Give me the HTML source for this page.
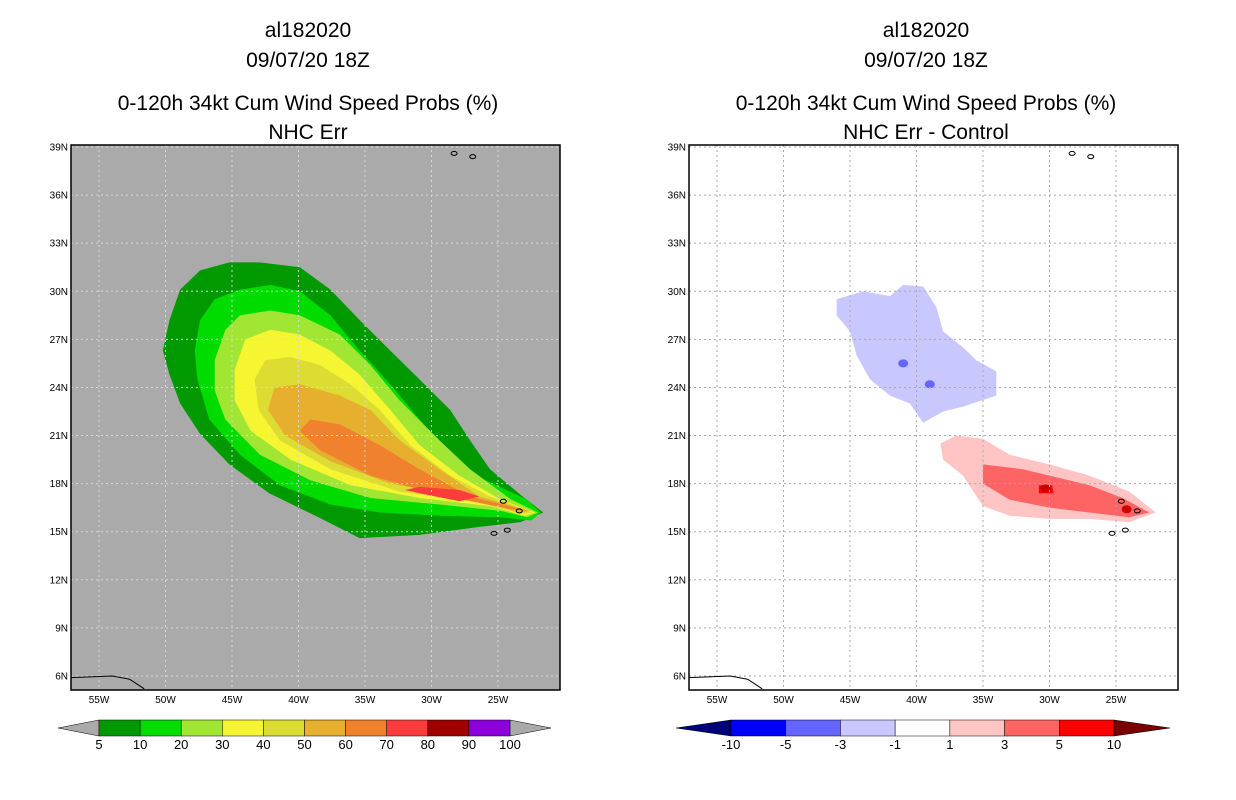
<!DOCTYPE html>
<html><head><meta charset="utf-8"><style>
body{margin:0;background:#fff;width:1236px;height:800px;overflow:hidden}
svg{display:block}
</style></head><body>
<svg id="c" width="1236" height="800" xmlns="http://www.w3.org/2000/svg" font-family="Liberation Sans, sans-serif">
<g font-size="21" text-anchor="middle" fill="#000">
<text x="308" y="37">al182020</text>
<text x="308" y="67">09/07/20 18Z</text>
<text x="308" y="110">0-120h 34kt Cum Wind Speed Probs (%)</text>
<text x="308" y="139">NHC Err</text>
<text x="926" y="37">al182020</text>
<text x="926" y="67">09/07/20 18Z</text>
<text x="926" y="110">0-120h 34kt Cum Wind Speed Probs (%)</text>
<text x="926" y="139">NHC Err - Control</text>
</g>
<g id="L"></g><g id="R"></g>
</svg>
<script>
const lonTicks=[55,50,45,40,35,30,25];
const latTicks=[39,36,33,30,27,24,21,18,15,12,9,6];
// probability contour polygons [lonW, latN]
const levels=[5,10,20,30,40,50,60,70];
const levelColors=["#009a00","#00dc00","#a0e632","#f5f532","#dcdc32","#e6af2d","#f0822d","#fa3c3c"];
const probPolys=[
[[21.6,16.2],[23.3,17.3],[25.6,18.9],[27.1,20.7],[28.6,22.6],[30.9,24.5],[33.1,26.3],[35.4,28.2],[37.6,30.1],[39.9,31.5],[42.9,31.8],[45.2,31.8],[47.4,31.3],[48.9,30.1],[49.7,28.2],[50.2,26.3],[49.7,24.8],[48.9,23],[47.4,21.1],[45.2,19.2],[42.2,17.4],[38.5,15.9],[35.4,14.6],[30.9,14.8],[26.4,15.3],[23.3,15.6]],
[[21.8,16.2],[22.8,17],[26.4,18.4],[28.6,19.8],[30.9,22],[33.1,24.2],[35.4,26.3],[37.6,28.5],[39.9,30],[42.1,30.4],[44.4,30.1],[46.3,29.5],[47.4,28.2],[47.8,26.3],[47.6,24.5],[46.7,22],[44.4,19.8],[41.4,17.9],[37.6,16.7],[33.9,16.2],[29.4,16],[24.8,15.9],[22.5,15.7]],
[[22,16.2],[24,17],[27.1,18.9],[29.4,20.7],[32.4,23.2],[34.6,25.4],[36.9,27.3],[39.9,28.5],[42.1,28.8],[44.4,28.5],[45.5,27.6],[46.3,25.7],[46.3,23.8],[45.5,22],[42.9,19.8],[39.1,18.2],[34.6,17.1],[29.4,16.7],[24.8,16.3],[22.8,15.9]],
[[22.2,16.2],[24.8,17],[27.9,18.5],[30.9,20.4],[33.1,22.6],[35.4,24.8],[37.6,26.3],[39.9,27.3],[42.1,27.6],[44,27],[44.8,25.1],[44.8,23.2],[43.6,21.3],[40.6,19.5],[36.1,17.9],[30.9,17.1],[25.6,16.6],[23,16]],
[[22.4,16.2],[25.6,17.2],[28.6,18.5],[31.6,20.4],[33.9,22.6],[36.1,24.2],[38.4,25.4],[40.6,25.9],[42.5,25.7],[43.3,24.5],[43,22.6],[41.4,20.7],[37.6,18.9],[32.4,17.5],[26.4,16.8],[23.2,16.1]],
[[22.6,16.3],[26.4,17.2],[29.4,18.9],[32.4,20.7],[34.6,22.6],[36.9,23.5],[39.9,24.2],[41.8,24],[42.3,22.6],[41,21],[37.6,19.4],[33.1,18],[27.1,17.1],[23.4,16.2]],
[[22.8,16.3],[27.1,17.2],[30.9,18.9],[33.9,20.4],[36.9,21.7],[39.1,22],[39.9,21.3],[38.4,20.1],[34.6,18.5],[29.4,17.3],[24,16.4]],
[[30.9,17.8],[27.9,17.6],[26.4,17.2],[27.9,16.9],[30.9,17.4],[32,17.6]]
];
const diffLevels=[-3,1,3,5];
const diffColors=["#c8c8ff","#ffc4c4","#ff6464","#ff0000"];
const diffPolys=[
[[46,29.5],[44,30],[42,29.7],[41,30.4],[39.5,30.3],[38.5,29],[38,27.5],[36.5,26.5],[35.5,25.7],[34,25],[34,23.5],[36.5,22.8],[38,22.5],[39.5,21.8],[40.5,23],[42,23.5],[43.5,24.5],[44.5,26],[45,27.5],[46,28.5]],
[[38.2,20.5],[37,21],[35,20.8],[33,19.8],[30,19.2],[27,18.5],[24,17.5],[22,16.2],[24,15.6],[27,15.8],[30,15.8],[33,16],[35,16.6],[36.5,18.5],[38,19.5]],
[[35,19.2],[32,18.9],[30,18.5],[27,17.9],[24.5,17.1],[22.5,16.2],[24,15.9],[27,16.2],[30,16.5],[33,17],[35,18]],
[[30.8,17.9],[29.8,17.9],[29.7,17.4],[30.8,17.4]]
];
const probBar=[5,10,20,30,40,50,60,70,80,90,100];
const probBarColors=["#009a00","#00dc00","#a0e632","#f5f532","#dcdc32","#e6af2d","#f0822d","#fa3c3c","#a00000","#8c00dc"];
const diffBar=["-10","-5","-3","-1","1","3","5","10"];
const diffBarColors=["#0000ff","#6464ff","#c8c8ff","#ffffff","#ffc4c4","#ff6464","#ff0000"];

const NS="http://www.w3.org/2000/svg";
function el(t,a,p){const e=document.createElementNS(NS,t);for(const k in a)e.setAttribute(k,a[k]);p.appendChild(e);return e;}
function panel(g,ox,bg,grid,polys,cols,names,bar,barCols,isProb){
  const X0=71+ox,X1=560+ox,Y0=145,Y1=690;
  const px=l=>99+ox+(55-l)*13.3, py=l=>147+(39-l)*16.03;
  const cp="clip"+ox;
  const d=el("clipPath",{id:cp},g);el("rect",{x:X0,y:Y0,width:X1-X0,height:Y1-Y0},d);
  const bgR=el("rect",{x:X0,y:Y0,width:X1-X0,height:Y1-Y0,fill:bg},g);
  
  
  const cg=el("g",{"clip-path":"url(#"+cp+")"},g);
  polys.forEach((p,i)=>{
    const e=el("polygon",{points:p.map(q=>px(q[0])+","+py(q[1])).join(" "),fill:cols[i]},cg);
    
    
  });
  if(!isProb){
    [[30.3,17.7,"#cc0000"],[24.2,16.4,"#cc0000"],[41,25.5,"#6464ff"],[39,24.2,"#6464ff"]].forEach(s=>{
      const e=el("ellipse",{cx:px(s[0]),cy:py(s[1]),rx:5,ry:4,fill:s[2]},cg);
      
      
    });
  }
  lonTicks.forEach(l=>{
    el("line",{x1:px(l),x2:px(l),y1:Y0,y2:Y1,stroke:grid,"stroke-dasharray":"2,3","stroke-width":1},cg);
    const t=el("text",{x:px(l),y:Y1+13,"font-size":10,"text-anchor":"middle"},g);t.textContent=l+"W";
    
    
  });
  latTicks.forEach(l=>{
    el("line",{x1:X0,x2:X1,y1:py(l),y2:py(l),stroke:grid,"stroke-dasharray":"2,3","stroke-width":1},cg);
    const t=el("text",{x:X0-3,y:py(l)+3.5,"font-size":10,"text-anchor":"end"},g);t.textContent=l+"N";
    
    
  });
  // small islands
  [[24.6,16.9],[23.4,16.3],[25.3,14.9],[24.3,15.1],[28.3,38.6],[26.9,38.4]].forEach(s=>{
    el("ellipse",{cx:px(s[0]),cy:py(s[1]),rx:3,ry:2,fill:"none",stroke:"#000","stroke-width":1},cg);
  });
  el("polyline",{points:`${X0},${py(5.9)} ${px(54)},${py(6)} ${px(52.7)},${py(5.8)} ${px(51.6)},${py(5.2)}`,fill:"none",stroke:"#000","stroke-width":1},cg);
  const fr=el("rect",{x:X0,y:Y0,width:X1-X0,height:Y1-Y0,fill:"none",stroke:"#000","stroke-width":1.5},g);
  
  
  // colorbar
  const by=720,bh=16;
  const n=bar.length, bx0=isProb?99+ox:731, bx1=isProb?510+ox:1114;
  const w=(bx1-bx0)/(isProb?n-1:n-1);
  const lt=isProb?"#aaaaaa":"#00007a", rt=isProb?"#aaaaaa":"#7a0000";
  const ta=el("polygon",{points:`${bx0-(isProb?41:55)},${by+bh/2} ${bx0},${by} ${bx0},${by+bh}`,fill:lt,stroke:"#000","stroke-width":.5},g);
  
  
  const tb=el("polygon",{points:`${bx1+(isProb?41:56)},${by+bh/2} ${bx1},${by} ${bx1},${by+bh}`,fill:rt,stroke:"#000","stroke-width":.5},g);
  
  
  barCols.forEach((c,i)=>{
    const r=el("rect",{x:bx0+i*w,y:by,width:w,height:bh,fill:c,stroke:"#000","stroke-width":.5},g);
    
    
  });
  bar.forEach((v,i)=>{
    const t=el("text",{x:bx0+i*w,y:by+bh+13,"font-size":13,"text-anchor":"middle"},g);t.textContent=v;
    
    
  });
}
panel(document.getElementById("L"),0,"#aaaaaa","#d8d8d8",probPolys,levelColors,levels.map(l=>"prob-contour-"+l),probBar,probBarColors,true);
panel(document.getElementById("R"),618,"#ffffff","#aaaaaa",diffPolys,diffColors,diffLevels.map(l=>"diff-contour-"+l),diffBar,diffBarColors,false);
</script>
</body></html>
